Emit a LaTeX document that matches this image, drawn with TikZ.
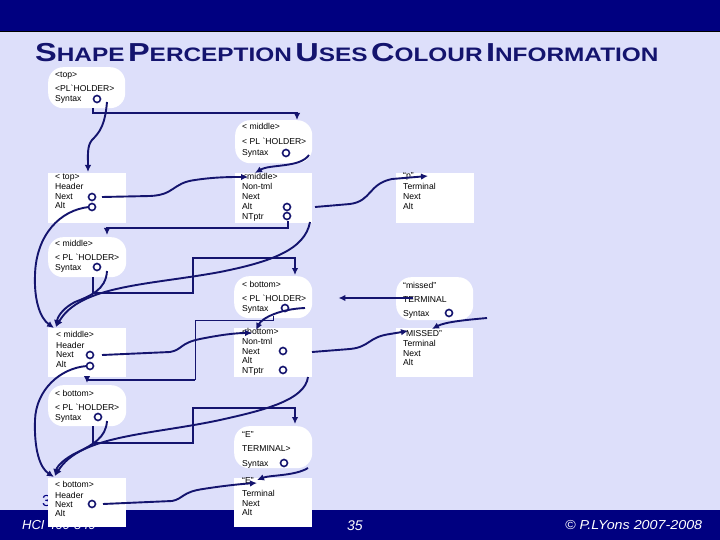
\documentclass[tikz,border=0pt]{standalone}
\usepackage{fontspec}
\setmainfont{Liberation Sans}
\newfontfamily\bx{Liberation Sans}
\newfontfamily\ttl{Liberation Sans Bold}
\usetikzlibrary{arrows.meta,calc}
\definecolor{bg}{RGB}{221,223,250}
\definecolor{navy}{RGB}{0,0,128}
\definecolor{ink}{RGB}{20,20,110}
\newcommand\tcap[2]{{\fontsize{26}{26}\selectfont #1}{\fontsize{19.5}{20}\selectfont #2}}
\tikzset{
 rbox/.style={fill=white, rounded corners=15pt, anchor=north west, inner sep=0pt},
 sbox/.style={fill=white, anchor=north west, inner sep=0pt},
 tx/.style={anchor=base west, inner sep=0pt, font=\bx\fontsize{8.6}{10}\selectfont, text=black},
 ring/.style={circle, draw=ink, line width=1.6pt, fill=white, minimum size=7pt, inner sep=0pt},
 con/.style={draw=ink, line width=1.9pt, -{Latex[length=7pt,width=6.5pt]}},
 thinc/.style={draw=ink, line width=1pt},
 foot/.style={text=white, inner sep=0pt, anchor=base west},
}
\begin{document}
\begin{tikzpicture}[x=1pt,y=-1pt]
\useasboundingbox (0,0) rectangle (720,540);
\fill[bg] (0,0) rectangle (720,540);
\fill[navy] (0,0) rectangle (720,31);
\draw[black, line width=0.8pt] (0,31) -- (720,31);
\fill[navy] (0,510) rectangle (720,540);

\node[anchor=base west, inner sep=0pt, text=ink, font=\ttl] (title) at (35,62)
 {\scalebox{1.25}[1]{\tcap{S}{HAPE} \tcap{P}{ERCEPTION} \tcap{U}{SES} \tcap{C}{OLOUR} \tcap{I}{NFORMATION}}};

% footer
\node[foot, font=\itshape\fontsize{13}{14}\selectfont] (fhci) at (22,529) {HCI 460-849};
\node[foot, font=\itshape\fontsize{14}{14}\selectfont] (fnum) at (347,530) {35};
\node[foot, font=\itshape\fontsize{13}{14}\selectfont] (fcopy) at (565,529) {\scalebox{1.1}[1]{© P.LYons 2007-2008}};
\node[anchor=base west, inner sep=0pt, text=navy, font=\fontsize{16}{16}\selectfont] (three) at (42,506) {3};

% boxes
\node[rbox, minimum width=77pt, minimum height=41pt] (pl1) at (48,67) {};
\node[rbox, minimum width=77pt, minimum height=43pt] (pl2) at (235,120) {};
\node[sbox, minimum width=78pt, minimum height=50pt] (hd1) at (48,173) {};
\node[sbox, minimum width=77pt, minimum height=50pt] (nt1) at (235,173) {};
\node[sbox, minimum width=78pt, minimum height=50pt] (t1) at (396,173) {};
\node[rbox, minimum width=78pt, minimum height=40pt] (pl3) at (48,237) {};
\node[rbox, minimum width=78pt, minimum height=42pt] (pl4) at (234,276) {};
\node[rbox, minimum width=77pt, minimum height=43pt] (m1) at (396,277) {};
\node[sbox, minimum width=78pt, minimum height=49pt] (hd2) at (48,328) {};
\node[sbox, minimum width=78pt, minimum height=49pt] (nt2) at (234,328) {};
\node[sbox, minimum width=77pt, minimum height=49pt] (t2) at (396,328) {};
\node[rbox, minimum width=78pt, minimum height=41pt] (pl5) at (48,385) {};
\node[rbox, minimum width=78pt, minimum height=42pt] (pl6) at (234,426) {};
\node[sbox, minimum width=78pt, minimum height=49pt] (hd3) at (48,478) {};
\node[sbox, minimum width=78pt, minimum height=49pt] (t3) at (234,478) {};

% texts
\node[tx] (pl1a) at (55,78) {<top>};
\node[tx] (pl1b) at (55,92) {<PL`HOLDER>};
\node[tx] (pl1c) at (55,102) {Syntax};
\node[ring] (pl1s) at (97,99) {};

\node[tx] (pl2a) at (242,130) {< middle>};
\node[tx] (pl2b) at (242,145) {< PL `HOLDER>};
\node[tx] (pl2c) at (242,156) {Syntax};
\node[ring] (pl2s) at (286,153) {};

\node[tx] (hd1a) at (55,180) {< top>};
\node[tx] (hd1b) at (55,190) {Header};
\node[tx] (hd1c) at (55,200) {Next};
\node[tx] (hd1d) at (55,209) {Alt};
\node[ring] (hd1n) at (92,197) {};
\node[ring] (hd1l) at (92,207) {};

\node[tx] (nt1a) at (242,180) {<middle>};
\node[tx] (nt1b) at (242,190) {Non-tml};
\node[tx] (nt1c) at (242,200) {Next};
\node[tx] (nt1d) at (242,210) {Alt};
\node[tx] (nt1e) at (242,219) {NTptr};
\node[ring] (nt1l) at (287,207) {};
\node[ring] (nt1p) at (287,216) {};

\node[tx] (t1a) at (403,179) {“p”};
\node[tx] (t1b) at (403,190) {Terminal};
\node[tx] (t1c) at (403,200) {Next};
\node[tx] (t1d) at (403,210) {Alt};

\node[tx] (pl3a) at (55,246) {< middle>};
\node[tx] (pl3b) at (55,260) {< PL `HOLDER>};
\node[tx] (pl3c) at (55,270) {Syntax};
\node[ring] (pl3s) at (97,267) {};

\node[tx] (pl4a) at (242,287) {< bottom>};
\node[tx] (pl4b) at (242,301) {< PL `HOLDER>};
\node[tx] (pl4c) at (242,311) {Syntax};
\node[ring] (pl4s) at (285,308) {};

\node[tx] (m1a) at (403,288) {“missed”};
\node[tx] (m1b) at (403,302) {TERMINAL};
\node[tx] (m1c) at (403,316) {Syntax};
\node[ring] (m1s) at (449,313) {};

\node[tx] (hd2a) at (56,337) {< middle>};
\node[tx] (hd2b) at (56,348) {Header};
\node[tx] (hd2c) at (56,357) {Next};
\node[tx] (hd2d) at (56,367) {Alt};
\node[ring] (hd2n) at (90,355) {};
\node[ring] (hd2l) at (90,366) {};

\node[tx] (nt2a) at (242,334) {<bottom>};
\node[tx] (nt2b) at (242,344) {Non-tml};
\node[tx] (nt2c) at (242,354) {Next};
\node[tx] (nt2d) at (242,363) {Alt};
\node[tx] (nt2e) at (242,373) {NTptr};
\node[ring] (nt2n) at (283,351) {};
\node[ring] (nt2p) at (283,370) {};

\node[tx] (t2a) at (403,336) {“MISSED”};
\node[tx] (t2b) at (403,346) {Terminal};
\node[tx] (t2c) at (403,356) {Next};
\node[tx] (t2d) at (403,365) {Alt};

\node[tx] (pl5a) at (55,396) {< bottom>};
\node[tx] (pl5b) at (55,410) {< PL `HOLDER>};
\node[tx] (pl5c) at (55,420) {Syntax};
\node[ring] (pl5s) at (98,417) {};

\node[tx] (pl6a) at (242,437) {“E”};
\node[tx] (pl6b) at (242,451) {TERMINAL>};
\node[tx] (pl6c) at (242,466) {Syntax};
\node[ring] (pl6s) at (284,463) {};

\node[tx] (hd3a) at (55,487) {< bottom>};
\node[tx] (hd3b) at (55,498) {Header};
\node[tx] (hd3c) at (55,507) {Next};
\node[tx] (hd3d) at (55,516) {Alt};
\node[ring] (hd3n) at (92,504) {};

\node[tx] (t3a) at (242,483) {“E”};
\node[tx] (t3b) at (242,496) {Terminal};
\node[tx] (t3c) at (242,506) {Next};
\node[tx] (t3d) at (242,515) {Alt};

% ---------- connectors, top level
\draw[con] ($(pl1.north west)+(45,41)$) -- ++(0,5) -| ($(pl2.north west)+(62,0)$);
\draw[con] ($(pl1s)+(10,3)$) .. controls (105,125) and (100,132) .. (92,140)
   .. controls (87,146) and (88,155) .. ($(hd1.north west)+(40,-1)$);
\draw[con] ($(pl2.north west)+(74,35)$) .. controls (300,168) and (270,164) .. ($(nt1.north west)+(20,0)$);
\draw[con] ($(hd1n)+(10,0)$) -- (150,196) .. controls (175,195) and (172,183) .. (195,180)
   .. controls (215,177) and (230,177) .. ($(nt1.north west)+(13,4)$);
\draw[con] ($(nt1.north west)+(80,34)$) -- (350,204) .. controls (372,201) and (368,184) .. (392,179)
   -- ($(t1.north west)+(32,3)$);
\draw[con] ($(nt1.north west)+(53,48)$) -- (288,228) -| ($(pl3.north west)+(59,-2)$);
\draw[con] ($(hd1l)+(-3,0)$) .. controls (60,210) and (36,235) .. (35,275)
   .. controls (34,300) and (40,318) .. ($(hd2.north west)+(6,0)$);
\draw[con] ($(nt1.north west)+(75,49)$) .. controls (305,250) and (270,262) .. (220,272)
   .. controls (150,285) and (80,285) .. ($(hd2.north west)+(8,-1)$);
\draw[con] ($(pl3s)+(10,4)$) .. controls (106,290) and (90,296) .. (75,302)
   .. controls (65,307) and (58,315) .. ($(hd2.north west)+(8,-1)$);

% ---------- middle level
\draw[con] ($(pl3.north west)+(45,40)$) -- (93,293) -- (193,293) -- (193,258) -| ($(pl4.north west)+(61,-1)$);
\draw[con] ($(hd2n)+(12,0)$) -- (170,352) .. controls (182,350) and (180,343) .. (200,339)
   .. controls (220,335) and (235,333) .. ($(nt2.north west)+(18,5)$);
\draw[con] ($(pl4.north west)+(71,32)$) .. controls (280,309) and (262,318) .. ($(nt2.north west)+(22,2)$);
\draw[thinc] ($(pl4.north west)+(39,40)$) -- (273,320) -- (195,320) -- (195,380);
\draw[con] (195,380) -| ($(pl5.north west)+(39,-2)$);
\draw[con] ($(nt2.north west)+(78,24)$) -- (350,349) .. controls (370,347) and (368,337) .. (390,334)
   -- ($(t2.north west)+(12,3)$);
\draw[con] ($(m1.north west)+(91,41)$) .. controls (465,320) and (445,322) .. ($(t2.north west)+(36,1)$);
\draw[con] ($(m1.north west)+(17,21)$) -- ($(pl4.north east)+(26,22)$);

% ---------- bottom level
\draw[con] ($(pl5.north west)+(45,41)$) -- (93,443) -- (193,443) -- (193,408) -| ($(pl6.north west)+(61,-2)$);
\draw[con] ($(pl5s)+(9,4)$) .. controls (106,438) and (92,445) .. (78,452)
   .. controls (65,458) and (57,466) .. ($(hd3.north west)+(7,-2)$);
\draw[con] ($(nt2.north west)+(74,49)$) .. controls (305,400) and (265,410) .. (220,420)
   .. controls (150,435) and (80,435) .. ($(hd3.north west)+(7,-2)$);
\draw[con] ($(hd2l)+(-3,0)$) .. controls (60,368) and (36,390) .. (35,420)
   .. controls (34,450) and (40,468) .. ($(hd3.north west)+(6,-1)$);
\draw[con] ($(pl6.north west)+(74,42)$) .. controls (295,476) and (270,475) .. ($(t3.north west)+(23,2)$);
\draw[con] ($(hd3n)+(11,0)$) -- (172,501) .. controls (183,499) and (182,492) .. (203,489)
   .. controls (222,486) and (240,484) .. ($(t3.north west)+(23,5)$);
\end{tikzpicture}
\end{document}
